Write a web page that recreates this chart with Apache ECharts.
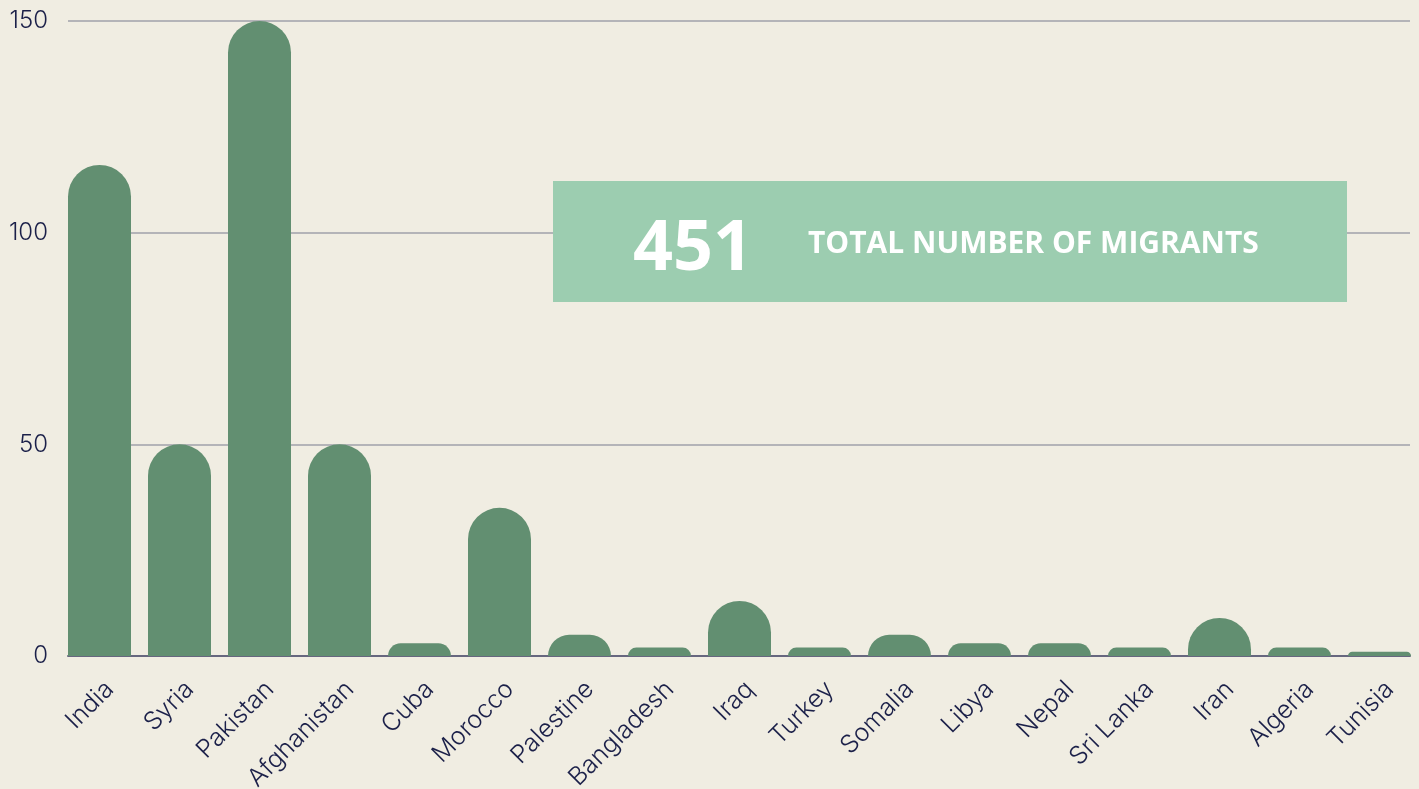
<!DOCTYPE html>
<html>
<head>
<meta charset="utf-8">
<script src="https://cdn.jsdelivr.net/npm/echarts@6/dist/echarts.min.js"></script>
<style>
html,body{margin:0;padding:0;background:#f0ede2;}
#chart{width:1419px;height:789px;}
</style>
</head>
<body>
<div id="chart"></div>
<script>
const categories = ['India','Syria','Pakistan','Afghanistan','Cuba','Morocco','Palestine','Bangladesh','Iraq','Turkey','Somalia','Libya','Nepal','Sri Lanka','Iran','Algeria','Tunisia'];
const migrants = [116, 50, 150, 50, 3, 35, 5, 2, 13, 2, 5, 3, 3, 2, 9, 2, 1];
const yTicks = { min: 0, max: 150, interval: 50 };
const totalLabel = 'TOTAL NUMBER OF MIGRANTS';
const total = migrants.reduce((a, b) => a + b, 0);

const textColor = '#1b2049';
const chart = echarts.init(document.getElementById('chart'));
chart.setOption({
  backgroundColor: '#f0ede2',
  animation: false,
  grid: [
    { left: 68, right: 9, top: 21, bottom: 133, containLabel: false, outerBoundsMode: 'none' },
    { left: 59.5, width: 1360, top: 21, bottom: 133, containLabel: false, outerBoundsMode: 'none' }
  ],
  xAxis: [
    { type: 'category', gridIndex: 0, data: categories,
      axisLine: { show: true, lineStyle: { color: '#67677f', width: 2 } },
      axisTick: { show: false }, axisLabel: { show: false }, splitLine: { show: false } },
    { type: 'category', gridIndex: 1, data: categories,
      axisLine: { show: false }, axisTick: { show: false },
      axisLabel: { rotate: 45, interval: 0, margin: 19, color: textColor,
        verticalAlign: 'top', padding: [2, 0, 0, 0],
        fontFamily: 'Inter', fontSize: 25, fontWeight: 300 } }
  ],
  yAxis: [
    { type: 'value', gridIndex: 0, min: yTicks.min, max: yTicks.max, interval: yTicks.interval,
      axisLine: { show: false }, axisTick: { show: false },
      axisLabel: { margin: 20, color: textColor, fontFamily: 'Inter', fontSize: 24, fontWeight: 300 },
      splitLine: { lineStyle: { color: '#b4b4b8', width: 2 } } },
    { type: 'value', gridIndex: 1, min: yTicks.min, max: yTicks.max, interval: yTicks.interval,
      show: false, splitLine: { show: false } }
  ],
  series: [{
    type: 'bar', xAxisIndex: 1, yAxisIndex: 1, data: migrants,
    barWidth: 63,
    itemStyle: { color: '#628f71', borderRadius: [31.5, 31.5, 0, 0] }
  }],
  graphic: [
    { type: 'rect', left: 553, top: 181, shape: { width: 794, height: 121 },
      style: { fill: '#9ccdb0' }, z: 10 },
    { type: 'text', left: 633, top: 215, z: 11,
      style: { text: String(total), fill: '#ffffff', font: 'bold 70px "Open Sans"' } },
    { type: 'text', left: 808, top: 229, z: 11,
      style: { text: totalLabel, fill: '#ffffff', font: 'bold 30px "Open Sans"' } }
  ]
});
</script>
</body>
</html>
